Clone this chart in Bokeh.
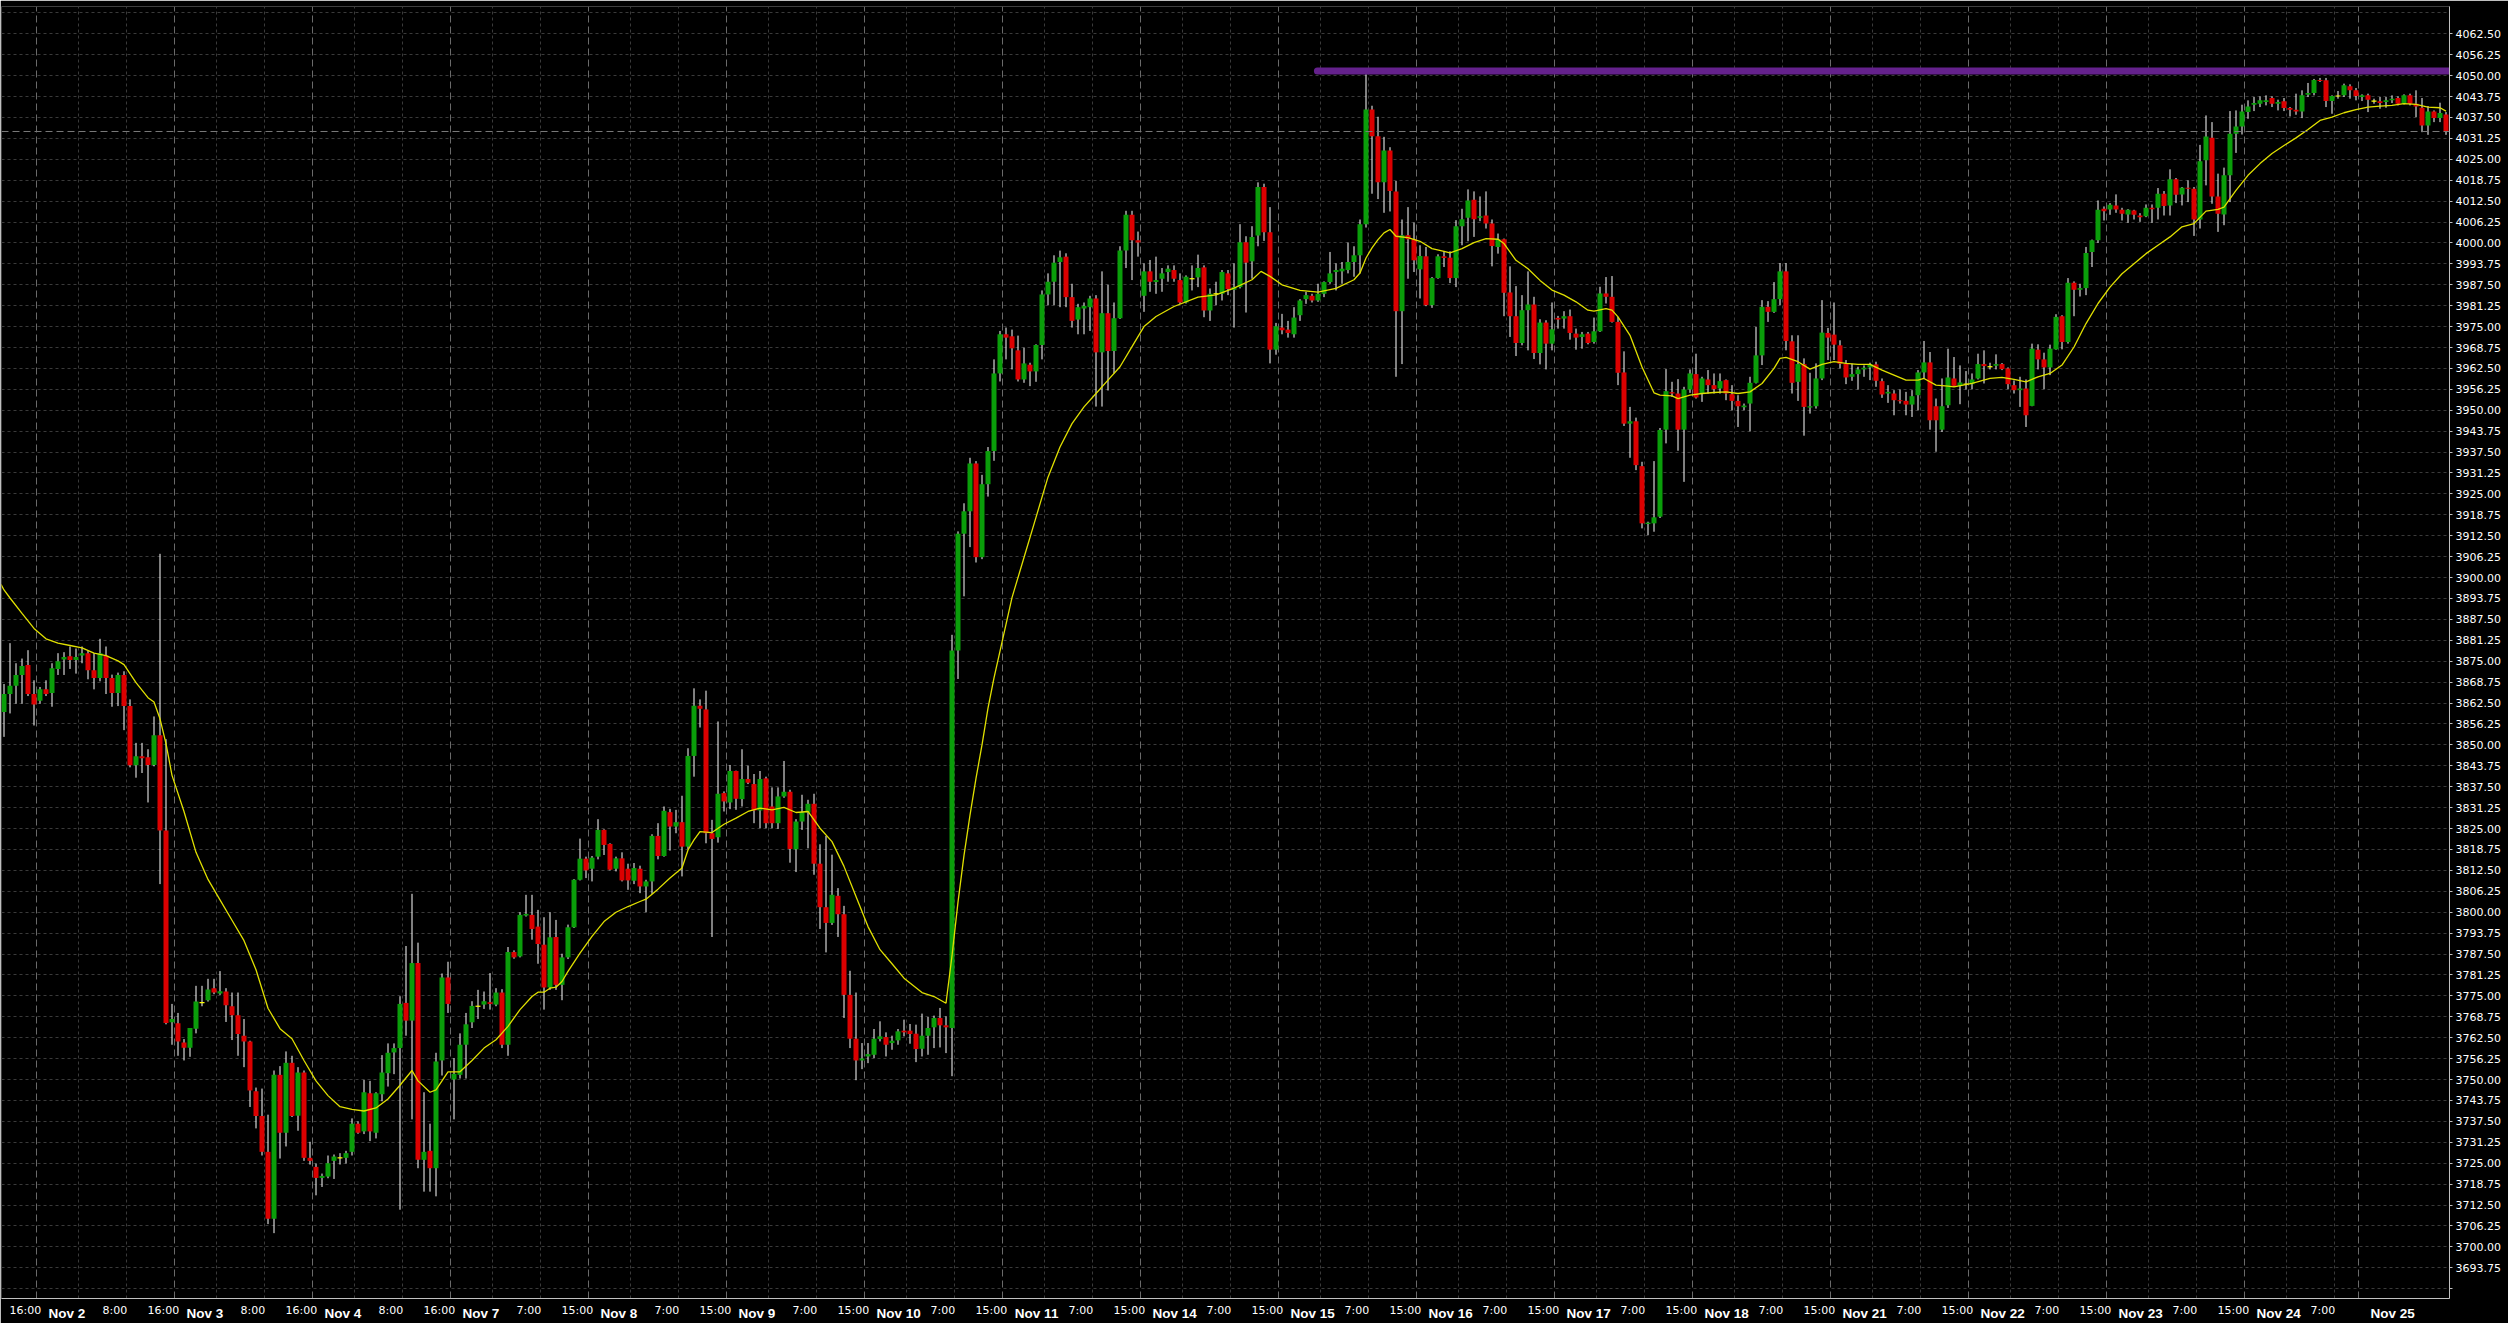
from bokeh.plotting import figure
from bokeh.models import (Range1d, FixedTicker, PrintfTickFormatter, Span, Grid, LinearAxis,
                          CustomJSTickFormatter)
from bokeh.embed import file_html
from bokeh.resources import INLINE

# ---------------- data (US500 H1, Nov 2022) ----------------
opens = [3859.8,3865.2,3867.7,3870.9,3873.9,3865.2,3863.2,3866.6,3865.5,3872.7,3875.5,3876.5,3875.4,3876.7,3877.4,3872.3,3870.0,3876.7,3870.0,3865.5,
3870.9,3861.6,3843.9,3846.6,3846.3,3844.0,3852.9,3824.4,3767.1,3766.8,3761.1,3759.5,3765.2,3773.0,3773.7,3777.3,3775.7,3776.3,3771.9,3769.2,
3763.1,3761.4,3746.5,3739.1,3728.4,3708.4,3751.4,3734.1,3755.0,3739.2,3752.1,3726.6,3723.9,3720.6,3721.0,3725.7,3726.6,3726.6,3728.4,3736.8,
3734.5,3745.9,3734.1,3745.6,3751.9,3758.1,3759.4,3772.9,3767.6,3784.8,3726.0,3728.7,3723.5,3755.7,3780.5,3750.0,3751.4,3760.4,3767.1,3771.9,
3772.4,3773.1,3772.4,3776.0,3760.4,3788.1,3786.8,3799.0,3799.2,3795.7,3790.3,3777.5,3792.6,3778.3,3786.5,3795.5,3809.7,3816.0,3813.0,3816.6,
3824.6,3820.4,3813.0,3816.1,3813.0,3809.4,3813.0,3807.7,3809.2,3822.8,3816.8,3829.9,3825.6,3826.9,3819.6,3846.7,3861.7,3860.6,3823.6,3822.4,
3835.6,3832.8,3842.2,3833.8,3839.8,3838.3,3830.4,3840.0,3831.6,3826.6,3834.6,3836.0,3818.8,3827.1,3829.8,3832.4,3814.5,3801.5,3796.8,3804.9,
3799.4,3775.3,3762.2,3755.7,3756.9,3757.4,3762.1,3762.7,3760.9,3761.7,3764.6,3764.6,3763.7,3759.2,3763.1,3765.6,3768.4,3766.2,3765.4,3878.2,
3913.1,3919.8,3934.1,3906.1,3927.9,3937.8,3961.0,3972.7,3972.1,3967.9,3959.2,3963.6,3961.6,3969.5,3984.6,3988.4,3994.3,3995.9,3983.8,3977.1,
3980.4,3980.8,3983.4,3967.3,3979.0,3967.7,3977.5,3997.7,4008.4,4000.8,3984.2,3991.5,3988.3,3989.3,3991.3,3991.9,3988.9,3982.2,3989.3,3989.7,
3992.7,3979.8,3984.8,3984.8,3990.9,3986.0,3986.8,4000.2,3994.5,4002.2,4016.7,4003.2,3968.1,3974.7,3974.1,3972.7,3978.4,3983.2,3984.2,3982.8,
3984.8,3988.3,3991.3,3991.5,3991.9,3994.3,3996.3,4005.6,4039.9,4031.9,4018.1,4027.6,4015.4,3979.6,4002.3,4001.1,3992.1,3996.0,3981.4,3989.5,
3996.0,3995.6,3989.5,4005.0,4007.5,4012.9,4007.5,4008.2,4005.8,3998.8,4001.1,3985.2,3978.1,3970.1,3979.9,3981.6,3967.1,3976.2,3969.9,3977.6,
3977.4,3978.1,3972.9,3971.9,3972.9,3970.4,3973.6,3984.9,3983.9,3976.4,3961.3,3946.0,3946.7,3933.3,3916.0,3916.2,3918.2,3944.2,3955.4,3955.0,
3944.2,3956.2,3960.8,3955.0,3959.2,3957.5,3956.5,3959.0,3954.8,3952.8,3950.9,3952.0,3958.2,3966.4,3980.9,3979.4,3983.2,3991.5,3970.6,3958.5,
3963.8,3950.8,3951.2,3959.5,3973.1,3972.6,3969.4,3963.9,3960.0,3960.8,3962.2,3962.8,3963.7,3958.7,3955.0,3955.0,3953.0,3952.8,3951.7,3954.5,
3961.3,3964.3,3951.2,3944.2,3951.5,3959.5,3957.3,3957.8,3957.8,3959.5,3963.8,3963.0,3963.3,3963.8,3962.5,3957.5,3956.0,3956.5,3951.3,3968.1,
3965.2,3962.8,3968.2,3978.1,3970.4,3988.1,3986.0,3986.5,3997.3,4000.8,4010.2,4010.0,4011.2,4009.9,4008.5,4009.7,4008.2,4008.0,4010.5,4010.5,
4014.7,4011.2,4019.0,4014.5,4016.5,4016.2,4007.0,4024.7,4031.4,4013.9,4008.5,4020.2,4032.6,4034.8,4039.1,4041.3,4041.6,4042.1,4043.3,4041.6,
4042.3,4040.3,4039.8,4039.3,4044.3,4044.8,4048.7,4048.6,4042.4,4043.9,4044.1,4046.8,4045.6,4043.6,4044.1,4042.4,4042.3,4042.1,4042.6,4043.3,
4041.6,4044.1,4041.6,4040.4,4035.1,4039.3,4037.3,4038.4]
highs = [3868.2,3880.4,3874.4,3875.8,3878.3,3869.3,3867.3,3869.3,3874.4,3877.4,3877.7,3879.4,3878.8,3879.4,3878.1,3877.4,3881.7,3879.4,3871.0,3871.6,
3872.0,3863.6,3850.6,3850.6,3848.7,3858.5,3907.1,3851.7,3772.6,3769.9,3762.1,3765.4,3778.0,3778.0,3780.1,3780.1,3782.4,3777.3,3776.0,3776.0,
3768.1,3761.6,3747.6,3747.3,3739.5,3752.7,3754.0,3758.4,3757.1,3753.7,3752.7,3731.4,3724.9,3721.9,3727.3,3727.6,3728.0,3728.7,3738.4,3737.5,
3749.9,3749.6,3746.2,3757.3,3760.8,3760.8,3774.9,3789.9,3805.5,3790.9,3746.2,3736.8,3758.0,3781.7,3785.2,3756.4,3763.8,3769.9,3773.4,3776.8,
3776.3,3781.8,3777.3,3777.0,3789.6,3788.6,3800.0,3805.2,3805.2,3800.7,3798.5,3800.0,3797.7,3787.6,3796.3,3809.9,3822.0,3816.6,3816.8,3827.8,
3824.8,3820.6,3816.6,3817.9,3814.5,3814.7,3813.9,3809.7,3823.3,3826.6,3831.6,3830.9,3830.6,3834.8,3849.0,3866.9,3863.6,3866.2,3827.6,3857.0,
3836.1,3844.0,3842.3,3848.7,3843.8,3841.3,3842.2,3840.5,3837.3,3837.3,3845.2,3836.6,3827.8,3835.1,3833.6,3835.4,3820.3,3822.8,3817.2,3807.2,
3801.9,3782.5,3776.0,3760.9,3760.9,3765.1,3767.4,3764.1,3763.1,3765.1,3767.9,3766.6,3766.4,3769.7,3768.7,3769.1,3771.4,3768.9,3882.9,3913.8,
3922.2,3935.8,3934.8,3930.7,3939.0,3965.2,3973.7,3974.7,3974.1,3972.3,3968.7,3964.2,3969.7,3985.8,3990.9,3996.3,3997.7,3996.9,3987.8,3981.8,
3982.2,3984.2,3984.4,3991.5,3987.5,3982.2,3999.0,4009.6,4009.6,4003.4,3993.9,3994.9,3995.9,3992.5,3993.3,3993.3,3990.9,3990.3,3993.3,3996.5,
3993.3,3986.4,3988.4,3991.9,3991.9,3993.9,4005.6,4002.0,4005.0,4018.1,4017.7,4010.7,3976.1,3978.8,3976.7,3980.8,3983.2,3985.4,3984.8,3987.8,
3988.5,3997.3,3993.9,3994.3,4000.1,3999.0,4007.0,4050.4,4041.0,4037.7,4031.7,4028.6,4018.5,4007.0,4010.7,4006.1,3999.3,3998.8,3989.8,3996.6,
3997.6,3997.5,4006.8,4010.2,4016.0,4015.4,4013.9,4015.4,4007.0,4002.8,4001.3,3993.0,3987.1,3984.4,3991.5,3983.9,3977.2,3976.9,3982.2,3978.2,
3979.6,3980.1,3974.4,3973.4,3973.4,3977.7,3986.9,3989.8,3990.1,3977.9,3967.6,3951.0,3947.8,3934.6,3916.7,3934.8,3944.7,3962.3,3958.5,3959.3,
3957.0,3962.2,3966.9,3960.0,3962.0,3961.0,3961.0,3959.2,3957.5,3954.5,3952.0,3960.0,3974.9,3982.9,3982.6,3988.3,3994.0,3994.0,3972.4,3972.4,
3965.5,3961.2,3964.0,3982.9,3974.6,3982.2,3970.9,3965.0,3963.9,3963.0,3963.4,3964.2,3964.5,3959.5,3957.5,3956.0,3956.2,3955.5,3956.0,3962.0,
3970.7,3967.4,3953.5,3959.5,3968.4,3965.9,3963.4,3961.7,3961.0,3966.9,3967.9,3964.2,3966.7,3964.1,3962.8,3958.9,3960.0,3959.2,3969.9,3969.7,
3967.2,3969.6,3978.7,3978.4,3989.5,3988.5,3987.8,3998.8,4001.0,4012.7,4010.9,4011.9,4014.5,4010.5,4010.1,4009.9,4008.9,4011.5,4011.5,4016.4,
4015.5,4022.0,4019.4,4016.7,4018.7,4016.7,4029.3,4038.1,4036.1,4020.7,4022.5,4039.4,4039.6,4041.3,4042.6,4043.6,4043.8,4044.1,4043.8,4042.8,
4043.3,4040.6,4044.6,4045.6,4047.8,4049.0,4049.3,4049.3,4044.1,4045.4,4047.6,4047.4,4046.3,4044.4,4044.6,4043.1,4043.6,4043.6,4044.1,4043.8,
4044.4,4044.6,4045.6,4043.3,4040.9,4039.6,4041.9,4039.1]
lows = [3852.4,3859.4,3862.3,3862.3,3864.6,3855.8,3862.3,3864.6,3861.4,3870.9,3870.9,3872.7,3871.3,3874.4,3869.6,3866.6,3869.0,3865.2,3861.4,3861.6,
3854.4,3843.3,3840.2,3841.6,3832.8,3843.6,3808.4,3766.5,3760.4,3757.1,3755.7,3756.8,3763.8,3771.9,3773.3,3775.5,3775.3,3767.2,3761.8,3757.1,
3753.7,3741.8,3735.4,3727.3,3706.8,3704.1,3726.4,3730.0,3738.8,3734.7,3725.7,3724.6,3715.4,3717.9,3720.5,3720.3,3724.6,3724.9,3727.3,3733.8,
3733.7,3731.6,3732.4,3743.5,3747.9,3751.6,3711.1,3763.1,3738.1,3723.5,3716.5,3716.5,3715.1,3751.2,3769.9,3738.1,3750.3,3750.3,3765.4,3768.1,
3771.1,3770.9,3771.9,3759.4,3757.1,3786.1,3786.5,3798.7,3791.8,3784.6,3770.9,3776.8,3776.8,3773.7,3786.0,3795.3,3809.5,3810.2,3809.2,3815.8,
3817.1,3812.5,3812.2,3809.2,3806.7,3808.4,3805.7,3800.0,3805.5,3815.8,3816.6,3818.4,3823.6,3810.7,3818.8,3840.5,3855.2,3820.6,3792.6,3820.8,
3830.1,3830.8,3830.6,3831.6,3838.3,3826.6,3825.1,3825.1,3825.1,3824.9,3834.2,3814.8,3812.0,3824.6,3819.1,3811.2,3795.0,3788.0,3796.2,3792.6,
3768.4,3759.4,3749.8,3753.1,3754.9,3756.4,3761.4,3756.9,3758.9,3760.4,3762.9,3760.7,3755.2,3756.9,3757.4,3759.4,3759.6,3757.9,3751.0,3869.7,
3894.4,3909.1,3904.5,3905.5,3924.2,3934.9,3958.6,3965.2,3962.2,3958.6,3958.2,3957.2,3958.5,3965.2,3981.4,3981.4,3980.8,3980.8,3974.7,3972.7,
3972.7,3973.7,3951.1,3951.1,3955.9,3961.0,3977.3,3992.5,3988.9,3995.9,3979.4,3985.4,3984.8,3985.4,3988.4,3988.4,3981.8,3981.9,3985.8,3986.8,
3977.8,3976.7,3981.4,3982.8,3984.4,3974.7,3986.4,3979.2,3989.3,3999.0,4000.6,3964.0,3966.6,3972.7,3971.7,3971.7,3976.7,3981.8,3982.2,3982.4,
3983.8,3987.8,3985.8,3987.8,3990.9,3989.9,3990.9,4004.6,4014.7,4013.1,4009.0,4009.4,3960.0,3963.8,3989.3,3991.3,3983.4,3981.1,3980.6,3989.3,
3992.8,3988.0,3986.8,3999.3,4000.5,4001.8,4006.5,4004.3,3993.0,3996.8,3978.1,3971.9,3966.2,3969.4,3967.9,3965.3,3963.7,3962.2,3967.9,3974.4,
3974.4,3971.1,3968.1,3968.4,3969.7,3969.9,3973.4,3981.9,3976.2,3957.5,3945.3,3935.8,3932.1,3914.7,3912.7,3913.7,3917.8,3940.1,3954.0,3937.9,
3928.6,3955.2,3953.5,3952.5,3955.0,3955.0,3955.0,3953.0,3950.0,3945.0,3950.0,3943.7,3958.0,3963.5,3976.4,3979.1,3981.4,3967.9,3955.0,3952.8,
3942.4,3949.0,3950.5,3959.0,3965.0,3965.0,3962.5,3957.8,3958.8,3956.2,3960.0,3959.0,3957.0,3953.7,3952.2,3948.5,3952.0,3948.5,3948.0,3950.0,
3959.5,3944.2,3937.6,3943.5,3950.7,3957.0,3951.8,3956.2,3956.3,3959.2,3958.0,3962.2,3962.2,3962.0,3956.3,3955.0,3951.0,3945.0,3951.2,3962.2,
3956.3,3960.5,3968.1,3968.2,3969.9,3978.1,3984.0,3984.4,3992.8,4000.0,4006.7,4008.4,4009.0,4006.7,4006.0,4007.0,4006.3,4007.7,4006.0,4007.0,
4008.2,4008.2,4011.9,4011.2,4012.2,4002.1,4004.3,4017.2,4011.7,4003.3,4005.3,4012.2,4026.9,4032.4,4037.1,4039.4,4040.6,4041.1,4040.6,4039.6,
4039.4,4037.8,4038.3,4037.3,4043.6,4044.1,4048.1,4040.6,4038.6,4043.1,4043.6,4043.1,4042.6,4042.4,4039.1,4041.6,4040.1,4040.4,4041.8,4041.1,
4041.4,4041.1,4037.6,4033.1,4032.3,4036.1,4036.1,4032.3]
closes = [3865.2,3867.7,3870.9,3873.6,3865.2,3862.1,3866.6,3865.2,3872.9,3875.0,3876.3,3875.4,3876.3,3877.4,3872.3,3870.0,3877.4,3870.0,3865.5,3870.9,
3861.6,3843.9,3846.6,3846.0,3844.0,3852.9,3824.4,3766.9,3768.1,3761.4,3759.5,3765.4,3773.3,3773.0,3776.9,3776.0,3776.4,3772.2,3769.2,3763.6,
3761.4,3746.7,3739.1,3728.4,3708.4,3751.4,3734.1,3755.0,3739.1,3752.1,3726.6,3725.7,3720.6,3721.2,3725.0,3727.0,3726.6,3728.0,3736.8,3734.1,
3746.2,3734.5,3745.9,3752.1,3758.0,3759.4,3772.6,3767.6,3784.8,3726.0,3728.4,3723.5,3755.4,3780.5,3772.6,3751.7,3760.4,3766.5,3772.0,3771.9,
3773.4,3772.6,3776.0,3760.4,3788.1,3786.5,3799.2,3799.5,3795.0,3790.5,3777.5,3792.5,3778.3,3786.5,3795.5,3809.7,3816.0,3812.5,3816.3,3824.6,
3820.1,3812.7,3816.1,3809.5,3809.5,3813.2,3807.7,3809.2,3822.8,3816.8,3830.3,3825.6,3826.9,3819.6,3846.7,3861.7,3860.8,3823.6,3821.9,3835.4,
3833.1,3842.2,3833.9,3839.8,3838.7,3830.4,3839.8,3826.6,3826.6,3834.6,3836.0,3818.9,3827.1,3829.9,3832.4,3814.5,3801.5,3796.8,3805.2,3799.4,
3775.3,3762.2,3755.7,3756.3,3757.6,3762.2,3762.9,3760.4,3761.6,3764.4,3764.1,3763.6,3759.1,3763.1,3765.4,3768.4,3766.2,3765.6,3878.2,3913.1,
3919.8,3934.1,3906.1,3927.9,3937.8,3961.0,3972.7,3971.7,3968.5,3959.2,3964.0,3961.6,3969.5,3984.6,3988.4,3994.1,3995.7,3983.8,3976.7,3980.8,
3981.2,3983.4,3967.3,3979.0,3967.7,3977.5,3997.7,4008.4,4000.8,4000.1,3991.5,3988.4,3988.9,3990.9,3992.3,3989.3,3982.2,3989.9,3989.3,3992.5,
3979.8,3984.8,3984.8,3991.3,3986.2,3986.8,4000.2,3994.1,4001.8,4016.7,4003.2,3968.1,3975.1,3973.9,3973.1,3977.7,3982.8,3984.4,3982.8,3984.8,
3988.3,3990.9,3991.9,3992.3,3994.3,3996.3,4005.6,4039.9,4031.9,4018.1,4027.6,4015.5,3979.6,4002.3,4001.1,3994.8,3996.1,3981.4,3989.5,3996.0,
3995.5,3989.5,4005.0,4007.1,4012.7,4007.1,4008.0,4005.8,3999.1,4001.1,3985.1,3978.1,3970.1,3979.9,3981.6,3967.1,3976.2,3969.9,3974.2,3977.1,
3978.1,3973.1,3971.7,3972.7,3970.1,3973.6,3984.9,3983.9,3976.4,3961.2,3946.0,3946.7,3933.6,3916.2,3916.4,3918.0,3944.1,3955.7,3955.0,3944.2,
3956.2,3961.0,3953.8,3959.5,3957.5,3956.3,3958.7,3955.0,3952.8,3951.2,3951.4,3958.2,3966.4,3980.9,3979.4,3983.2,3991.5,3970.7,3958.2,3963.8,
3951.0,3951.2,3959.5,3973.2,3971.7,3969.6,3963.9,3959.8,3960.8,3962.2,3962.7,3963.8,3958.8,3954.7,3955.5,3953.0,3952.7,3951.7,3954.2,3961.3,
3964.3,3947.0,3947.0,3951.2,3959.8,3957.3,3958.3,3957.8,3959.2,3963.8,3963.2,3963.0,3963.8,3962.3,3957.8,3956.0,3956.5,3948.5,3968.4,3965.2,
3962.8,3968.4,3977.9,3970.4,3988.1,3986.0,3986.5,3997.0,4000.8,4009.9,4009.5,4011.4,4010.0,4008.7,4009.9,4008.4,4007.7,4010.5,4010.1,4014.7,
4011.0,4019.0,4014.4,4016.5,4016.2,4007.0,4024.4,4031.8,4013.9,4008.7,4020.2,4032.6,4034.8,4039.3,4040.8,4041.8,4042.6,4042.6,4041.6,4042.1,
4040.3,4039.8,4039.3,4044.1,4044.8,4048.7,4048.4,4042.4,4043.9,4043.9,4047.1,4045.6,4043.9,4044.1,4042.8,4042.4,4041.8,4042.6,4043.1,4041.6,
4044.1,4041.6,4040.8,4035.1,4039.3,4037.3,4038.8,4033.3]

# moving average (bar index, price)
ma_x = [-0.5,0,1,3,5,7,9,11,13,15,17,19,20,22,24,25,26,27,28,30,32,34,36,38,40,42,44,46,48,50,52,54,56,58,60,62,64,66,68,69,71,72,74,76,78,
80,82,84,86,88,89,90,91,92,93,94,96,98,100,102,104,106,107,109,111,113,114,115,116,118,120,122,124,126,128,130,132,134,136,138,140,142,144,
146,148,150,153,155,157,158,159,160,161,162,163,164,165,166,167,168,170,172,174,176,178,180,182,184,186,188,190,192,195,199,202,205,208,
209.5,211,213,216,219,222,225,226,227,228,229,230,231,232,234,236,238,240,241,243,245,247,249,250,252,254,256,258,260,262,264,265,267,268,
269,271,273,275,276,278,279,281,283,285,287,289,291,293,295,296,297,299,301,303,305,307,309,311,313,315,317,319,320,322,324,325,328,331,
333,335,337,339,341,343,345,347,349,351,353,355,357,359,361,363,365,367,369,370,372,374,376,378,380,382,384,386,388,390,392,394,396,398,
400,402,404,406,407]
ma_y = [3898.0,3896.3,3893.9,3889.3,3884.8,3881.7,3880.4,3879.7,3879.0,3877.4,3876.7,3875.1,3874.0,3868.6,3864.1,3862.8,3857.8,3850.4,3840.9,
3830.1,3817.9,3809.8,3803.7,3797.6,3791.5,3782.8,3771.3,3765.2,3762.2,3755.7,3749.6,3745.2,3741.9,3741.1,3740.6,3741.5,3744.2,3748.3,3752.7,
3749.6,3746.2,3746.9,3752.3,3752.3,3755.7,3759.4,3761.9,3765.9,3770.9,3774.8,3776.1,3776.1,3777.3,3777.6,3779.3,3782.3,3787.8,3792.8,3797.2,
3800.0,3801.7,3803.2,3803.9,3806.9,3810.2,3813.2,3818.6,3821.6,3824.1,3823.8,3826.3,3828.1,3830.1,3831.1,3830.6,3831.3,3829.8,3830.1,3825.1,
3821.1,3813.7,3804.7,3795.7,3788.8,3784.6,3780.3,3776.0,3774.8,3772.8,3787.0,3803.0,3817.0,3829.0,3840.0,3850.0,3861.0,3870.0,3878.0,3886.0,
3894.0,3906.0,3918.0,3930.0,3939.0,3946.0,3951.0,3955.0,3959.0,3963.0,3969.0,3975.0,3978.0,3981.0,3983.8,3984.5,3986.5,3989.0,3991.5,3990.0,
3987.5,3985.8,3985.3,3986.4,3989.0,3991.0,3995.5,3998.5,4001.0,4003.0,4004.0,4002.0,4001.6,4000.5,3998.3,3997.5,3997.0,3998.3,4000.1,4001.3,
4001.1,3999.8,3994.8,3992.3,3988.8,3985.9,3984.4,3982.4,3979.9,3979.6,3980.4,3979.9,3977.9,3972.4,3962.9,3955.2,3954.5,3954.3,3953.5,3954.5,
3955.0,3955.3,3955.5,3955.0,3955.5,3958.0,3962.5,3965.5,3965.8,3964.5,3962.3,3963.7,3964.5,3964.0,3963.7,3963.7,3962.0,3960.5,3959.0,3959.0,
3959.5,3957.5,3957.2,3957.0,3958.0,3959.5,3959.8,3959.2,3958.5,3960.0,3961.0,3963.5,3968.9,3975.9,3981.9,3986.8,3990.8,3993.8,3996.8,3999.3,
4001.8,4004.8,4005.8,4009.5,4010.0,4010.7,4015.7,4020.2,4023.7,4026.7,4029.1,4031.4,4033.9,4036.6,4037.6,4038.9,4039.8,4040.6,4040.9,4041.1,
4041.6,4041.4,4040.6,4040.4,4039.4]

# horizontal trend line and axis labelling
level_price = 4051.4
level_start_bar = 218.9
price_ticks = [3693.75 + 6.25 * k for k in range(60)]
day_start_bars = [6, 29, 52, 75, 98, 121, 144, 167, 190, 213, 236, 259, 282, 305, 328, 351, 374, 393]
day_names = ["Nov 2", "Nov 3", "Nov 4", "Nov 7", "Nov 8", "Nov 9", "Nov 10", "Nov 11", "Nov 14", "Nov 15",
             "Nov 16", "Nov 17", "Nov 18", "Nov 21", "Nov 22", "Nov 23", "Nov 24", "Nov 25"]
first_hour_names = ["8:00", "8:00", "8:00"] + ["7:00"] * 14 + [""]
second_hour_names = ["16:00", "16:00", "16:00"] + ["15:00"] * 13 + ["", ""]

# ---------------- figure ----------------
N = len(opens)
xs = list(range(N))
p = figure(width=2508, height=1323,
           x_range=Range1d(-0.4167, 407.5833), y_range=Range1d(3684.57, 4070.65),
           output_backend="svg", toolbar_location=None,
           background_fill_color="#000000", border_fill_color="#000000",
           min_border_left=1, min_border_right=59, min_border_top=6, min_border_bottom=24,
           y_axis_location="right")
p.outline_line_color = None
p.xgrid.visible = False
p.ygrid.ticker = FixedTicker(ticks=price_ticks + [3687.5, 4068.75])
p.ygrid.grid_line_color = "#3a3a3a"
p.ygrid.grid_line_dash = "3 3"

major_x = [s - 0.5833 for s in day_start_bars]
minor_x = [s - 0.5833 + k for s in [-17] + day_start_bars[:-1] for k in (7, 15)]
p.add_layout(Grid(dimension=0, ticker=FixedTicker(ticks=minor_x),
                  grid_line_color="#3a3a3a", grid_line_dash="3 3"))
p.add_layout(Grid(dimension=0, ticker=FixedTicker(ticks=major_x),
                  grid_line_color="#6a6a6a", grid_line_dash="7 4"))

# price axis
ya = p.yaxis[0]
ya.ticker = FixedTicker(ticks=price_ticks, minor_ticks=[3687.5])
ya.formatter = PrintfTickFormatter(format="%.2f")
ya.axis_line_color = "#c0c0c0"
ya.major_tick_line_color = "#c0c0c0"
ya.minor_tick_line_color = "#c0c0c0"
ya.major_tick_in = 0
ya.major_tick_out = 3
ya.minor_tick_in = 0
ya.minor_tick_out = 3
ya.major_label_standoff = 3
ya.major_label_text_color = "#ffffff"
ya.major_label_text_font = "DejaVu Sans"
ya.major_label_text_font_size = "11px"

# time axis: hour labels (normal) on the first axis, day labels (bold) on a second one
def hour_half_width(txt):
    w = sum(3.7 if ch == ":" else 7.0 for ch in txt)          # DejaVu Sans 11px
    return w / 2 / 6.0

def day_half_width(txt):
    em = {"N": 0.722, "o": 0.611, "v": 0.556, " ": 0.278}      # Liberation Sans Bold
    w = sum(em.get(ch, 0.556) for ch in txt) * 13.5
    return w / 2 / 6.0

hour_pos, hour_txt = [], []
def add_hour(left, txt):
    hour_pos.append(left + hour_half_width(txt)); hour_txt.append(txt)
add_hour(-17 + 17.92, "16:00")
day_pos, day_txt = [], []
for s, dn, h1, h2 in zip(day_start_bars, day_names, first_hour_names, second_hour_names):
    day_pos.append(s + 1.4167 + day_half_width(dn)); day_txt.append(dn)
    if h1:
        add_hour(s + 10.42, h1)
    if h2:
        add_hour(s + 17.92, h2)
order = sorted(range(len(hour_pos)), key=lambda k: hour_pos[k])
hour_pos = [hour_pos[k] for k in order]
hour_txt = [hour_txt[k] for k in order]

xa = p.xaxis[0]
xa.ticker = FixedTicker(ticks=hour_pos)
xa.formatter = CustomJSTickFormatter(args=dict(names=hour_txt), code="return names[index];")
xa.axis_line_color = "#c0c0c0"
xa.major_tick_line_color = None
xa.minor_tick_line_color = None
xa.major_tick_out = 0
xa.major_tick_in = 0
xa.major_label_standoff = 5
xa.major_label_text_color = "#ffffff"
xa.major_label_text_font = "DejaVu Sans"
xa.major_label_text_font_size = "11px"

xa2 = LinearAxis(ticker=FixedTicker(ticks=day_pos),
                 formatter=CustomJSTickFormatter(args=dict(names=day_txt), code="return names[index];"))
xa2.axis_line_color = None
xa2.major_tick_line_color = None
xa2.minor_tick_line_color = None
xa2.major_tick_out = 0
xa2.major_tick_in = 0
xa2.major_label_standoff = -14
xa2.major_label_text_color = "#ffffff"
xa2.major_label_text_font = "Liberation Sans"
xa2.major_label_text_font_style = "bold"
xa2.major_label_text_font_size = "13.5px"
p.add_layout(xa2, "below")

# bid line
p.add_layout(Span(location=closes[-1], dimension="width", line_color="#7a7a7a",
                  line_dash="7 4", line_width=1))

# candles
up_x, up_t, up_b = [], [], []
dn_x, dn_t, dn_b = [], [], []
dj_x, dj_y = [], []
for i in range(N):
    o, c = opens[i], closes[i]
    if c > o:
        up_x.append(i); up_t.append(max(c, o + 0.3)); up_b.append(o)
    elif c < o:
        dn_x.append(i); dn_t.append(o); dn_b.append(min(c, o - 0.3))
    else:
        dj_x.append(i); dj_y.append(c)

p.segment(x0=xs, y0=lows, x1=xs, y1=highs, line_color="#ffffff", line_width=1)
p.vbar(x=up_x, top=up_t, bottom=up_b, width=5/6, fill_color="#0a9e0a", line_color=None)
p.vbar(x=dn_x, top=dn_t, bottom=dn_b, width=5/6, fill_color="#dc0000", line_color=None)
p.segment(x0=[x - 5/12 for x in dj_x], y0=dj_y, x1=[x + 5/12 for x in dj_x], y1=dj_y,
          line_color="#ffff00", line_width=1.2)

# moving average
p.line(ma_x, ma_y, line_color="#e0e000", line_width=1.3)

# horizontal level
p.segment(x0=[level_start_bar], y0=[level_price], x1=[430], y1=[level_price],
          line_color="#64218c", line_width=7, line_cap="round")

open("out.html", "w").write(file_html(p, INLINE))
